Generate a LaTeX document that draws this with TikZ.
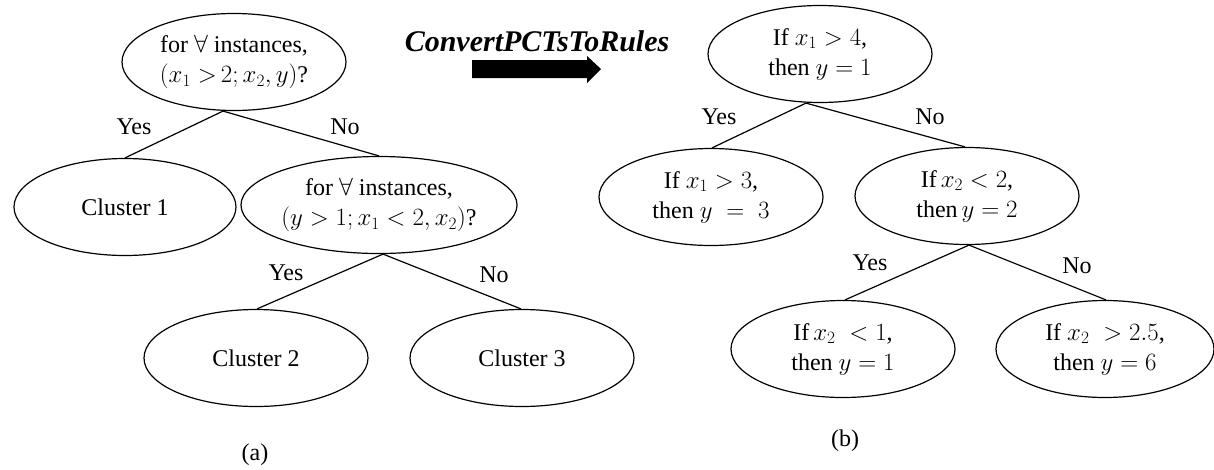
\documentclass[tikz,border=0pt]{standalone}
\usepackage{amssymb}
\usepackage{fontspec}
\setmainfont{Liberation Serif}
\usetikzlibrary{shapes.geometric,calc}
\tikzset{
  ell/.style={draw, ellipse, line width=1.2pt, inner sep=0pt,
    minimum width=224pt, minimum height=97pt, align=center,
    font=\fontsize{24}{30}\selectfont},
  lbl/.style={font=\fontsize{24}{30}\selectfont, inner sep=0pt},
  edge/.style={line width=1.2pt},
}
\begin{document}
\begin{tikzpicture}[x=1pt,y=-1pt]
\useasboundingbox (0,0) rectangle (1214,469);
% ---------- (a) ----------
\node[ell] (A) at (234,62) {for $\forall$ instances,\\$(x_1\;{>}\,2;x_2,y)$?};
\node[ell, minimum width=222pt] (C1) at (125,207) {Cluster 1};
\node[ell, minimum width=221pt] (B) at (379,205) {for $\forall$ instances,\\$(y>1;x_1<2,x_2)$?};
\node[ell] (C2) at (256,358) {Cluster 2};
\node[ell] (C3) at (522,358) {Cluster 3};
\coordinate (Ab) at ($(A.south)+(-11,0)$);
\coordinate (Bb) at ($(B.south)+(4,0)$);
\draw[edge] (Ab) -- (C1.north);
\draw[edge] (Ab) -- (B.north);
\draw[edge] (Bb) -- ($(C2.north)+(1,0)$);
\draw[edge] (Bb) -- ($(C3.north)+(-1,0)$);
\node[lbl] (ya) at (134,127) {Yes};
\node[lbl] (na) at (345,127) {No};
\node[lbl] (yb) at (286,273) {Yes};
\node[lbl] (nb) at (494,275) {No};
\node[lbl] (capa) at (255,455) {(a)};
% ---------- arrow ----------
\node[font=\fontsize{30}{34}\selectfont\bfseries\itshape, inner sep=0pt] (conv) at (537,41) {ConvertPCTsToRules};
\fill (472,60) -- (587,60) -- (587,56) -- (601,69) -- (587,83) -- (587,78) -- (472,78) -- cycle;
% ---------- (b) ----------
\node[ell] (R0) at (820,54) {If $x_1>4$,\\then $y=1$};
\node[ell] (R1) at (711,197) {If $x_1>3$,\\then $y\;=\;3$};
\node[ell] (R2) at (967,196) {If\,$x_2<2$,\\then\,$y=2$};
\node[ell] (R3) at (843,349) {If\,$x_2\;<1$,\\then $y=1$};
\node[ell, minimum width=218pt] (R4) at (1105,349) {If $x_2\;>2.5$,\\then $y=6$};
\coordinate (R0b) at ($(R0.south)+(-14,0)$);
\coordinate (R2b) at ($(R2.south)+(2,0)$);
\draw[edge] (R0b) -- ($(R1.north)+(1,0)$);
\draw[edge] (R0b) -- ($(R2.north)+(-2,0)$);
\draw[edge] (R2b) -- ($(R3.north)+(2,0)$);
\draw[edge] (R2b) -- ($(R4.north)+(1,0)$);
\node[lbl] (yc) at (719,117) {Yes};
\node[lbl] (nc) at (930,117) {No};
\node[lbl] (yd) at (870,263) {Yes};
\node[lbl] (nd) at (1077,266) {No};
\node[lbl] (capb) at (845,441) {(b)};
\end{tikzpicture}
\end{document}
